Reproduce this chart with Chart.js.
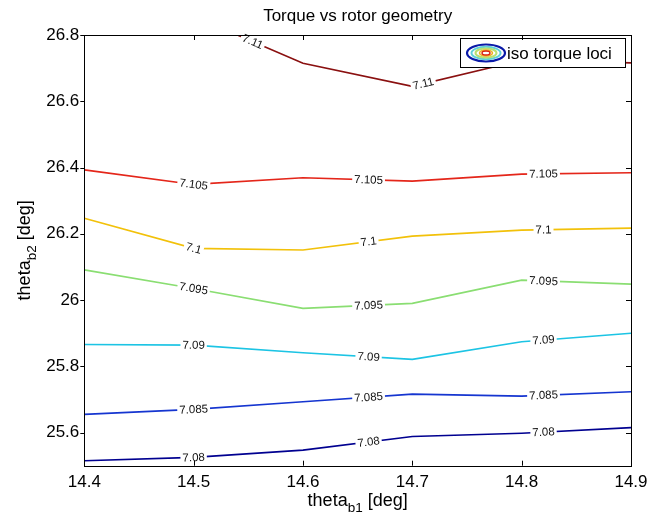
<!DOCTYPE html>
<html><head><meta charset="utf-8">
<script src="https://cdn.jsdelivr.net/npm/chart.js@4.4.1/dist/chart.umd.min.js"></script>
<style>html,body{margin:0;padding:0;background:#fff;} canvas{display:block;}</style>
</head><body>
<canvas id="c" width="665" height="512"></canvas>
<script>
// ---- data ----
const thetaB1 = [14.4, 14.5, 14.6, 14.7, 14.8, 14.9];
const xTicks = [14.4, 14.5, 14.6, 14.7, 14.8, 14.9];
const yTicks = [25.6, 25.8, 26, 26.2, 26.4, 26.6, 26.8];
const levels = ['7.08', '7.085', '7.09', '7.095', '7.1', '7.105', '7.11'];
const loci708  = [25.515, 25.525, 25.547, 25.588, 25.598, 25.615];
const loci7085 = [25.655, 25.670, 25.693, 25.716, 25.710, 25.723];
const loci709  = [25.866, 25.864, 25.841, 25.821, 25.874, 25.900];
const loci7095 = [26.091, 26.035, 25.975, 25.990, 26.060, 26.048];
const loci71   = [26.247, 26.156, 26.151, 26.193, 26.211, 26.217];
const loci7105 = [26.393, 26.349, 26.369, 26.359, 26.380, 26.384];
const loci711X = [14.54, 14.6, 14.7, 14.8, 14.9];
const loci711  = [26.8, 26.715, 26.645, 26.724, 26.716];
const labelX    = [14.5, 14.66, 14.82];
const labelX711 = [14.554, 14.71];
const levelColors = ['#000090', '#1535d0', '#1cc4e4', '#8ade72', '#f2c10a', '#e4261a', '#8a1010'];

const FONT = '"Liberation Sans", Arial, Helvetica, sans-serif';
Chart.defaults.font.family = FONT;
Chart.defaults.color = '#000';

function series(xs, ys) { return xs.map((x, i) => ({x: x, y: ys[i]})); }
const allY = [loci708, loci7085, loci709, loci7095, loci71, loci7105];
const datasets = allY.map((ys, i) => ({
  label: levels[i],
  data: series(thetaB1, ys),
  labelAt: labelX,
  borderColor: levelColors[i],
  borderWidth: 1.6,
  pointRadius: 0,
  tension: 0,
  fill: false
}));
datasets.push({
  label: levels[6],
  data: series(loci711X, loci711),
  labelAt: labelX711,
  borderColor: levelColors[6],
  borderWidth: 1.6,
  pointRadius: 0,
  tension: 0,
  fill: false
});

function fmt(v) { return String(Math.round(v * 10) / 10); }

const decor = {
  id: 'decor',
  afterDatasetsDraw(chart) {
    const {ctx, chartArea: a, scales: {x, y}} = chart;
    // contour labels
    chart.data.datasets.forEach(ds => {
      const pts = ds.data;
      ds.labelAt.forEach(lx => {
        let i = 0;
        for (let k = 0; k < pts.length - 1; k++) { if (lx >= pts[k].x && lx <= pts[k + 1].x) { i = k; break; } }
        const p0 = pts[i], p1 = pts[i + 1];
        const t = (lx - p0.x) / (p1.x - p0.x);
        const ly = p0.y + t * (p1.y - p0.y);
        const px = x.getPixelForValue(lx), py = y.getPixelForValue(ly);
        const ang = Math.atan2(y.getPixelForValue(p1.y) - y.getPixelForValue(p0.y),
                               x.getPixelForValue(p1.x) - x.getPixelForValue(p0.x));
        ctx.save();
        ctx.translate(px, py); ctx.rotate(ang);
        ctx.font = '11.5px ' + FONT;
        const w = ctx.measureText(ds.label).width;
        ctx.fillStyle = '#fff';
        ctx.fillRect(-w / 2 - 2, -5, w + 4, 10);
        ctx.fillStyle = '#111';
        ctx.textAlign = 'center'; ctx.textBaseline = 'middle';
        ctx.fillText(ds.label, 0, 0.5);
        ctx.restore();
      });
    });
    // legend box
    ctx.save();
    const lx0 = 460, ly0 = 38, lw = 165, lh = 29;
    ctx.fillStyle = '#fff'; ctx.fillRect(lx0, ly0, lw, lh);
    ctx.strokeStyle = '#000'; ctx.lineWidth = 1;
    ctx.strokeRect(lx0 + 0.5, ly0 + 0.5, lw, lh);
    const cx = 486, cy = 53;
    const rings = [[19, 8.5, '#0a1aa8', 2.2], [14.5, 6.3, '#60d0d8', 2], [10.5, 4.6, '#b8e070', 2], [6.5, 3, '#f0b020', 1.6], [4, 2, '#d82010', 1.4]];
    rings.forEach(r => {
      ctx.beginPath(); ctx.ellipse(cx, cy, r[0], r[1], 0, 0, Math.PI * 2);
      ctx.strokeStyle = r[2]; ctx.lineWidth = r[3]; ctx.stroke();
    });
    ctx.fillStyle = '#000'; ctx.font = '17px ' + FONT;
    ctx.textAlign = 'left'; ctx.textBaseline = 'alphabetic';
    ctx.fillText('iso torque loci', 507, 59);
    ctx.restore();
    // axes box and tick marks
    ctx.save();
    ctx.strokeStyle = '#000'; ctx.lineWidth = 1;
    ctx.strokeRect(Math.round(a.left) + 0.5, Math.round(a.top) + 0.5, Math.round(a.right - a.left), Math.round(a.bottom - a.top));
    ctx.beginPath();
    xTicks.forEach(v => {
      const px = Math.round(x.getPixelForValue(v)) + 0.5;
      ctx.moveTo(px, a.bottom); ctx.lineTo(px, a.bottom - 5);
      ctx.moveTo(px, a.top); ctx.lineTo(px, a.top + 5);
    });
    yTicks.forEach(v => {
      const py = Math.round(y.getPixelForValue(v)) + 0.5;
      ctx.moveTo(a.left - 4, py); ctx.lineTo(a.left, py);
      ctx.moveTo(a.right, py); ctx.lineTo(a.right - 5, py);
    });
    ctx.stroke();
    ctx.restore();
    // title and axis titles
    ctx.save();
    ctx.fillStyle = '#000';
    ctx.textBaseline = 'alphabetic';
    const midX = (a.left + a.right) / 2, midY = (a.top + a.bottom) / 2;
    ctx.font = '17px ' + FONT; ctx.textAlign = 'center';
    ctx.fillText('Torque vs rotor geometry', midX, 21);
    function axisTitle(sub) {
      const mainF = '18px ' + FONT, subF = '13.5px ' + FONT;
      ctx.font = mainF; const w1 = ctx.measureText('theta').width; const w3 = ctx.measureText(' [deg]').width;
      ctx.font = subF; const w2 = ctx.measureText(sub).width;
      const tot = w1 + w2 + w3;
      let sx = -tot / 2;
      ctx.textAlign = 'left';
      ctx.font = mainF; ctx.fillText('theta', sx, 0); sx += w1;
      ctx.font = subF; ctx.fillText(sub, sx, 6); sx += w2;
      ctx.font = mainF; ctx.fillText(' [deg]', sx, 0);
    }
    ctx.save(); ctx.translate(midX, 506); axisTitle('b1'); ctx.restore();
    ctx.save(); ctx.translate(30, midY); ctx.rotate(-Math.PI / 2); axisTitle('b2'); ctx.restore();
    ctx.restore();
  }
};

new Chart(document.getElementById('c'), {
  type: 'line',
  data: {datasets: datasets},
  options: {
    responsive: false,
    animation: false,
    events: [],
    layout: {padding: {top: 35, right: 34, bottom: 0, left: 0}},
    plugins: {legend: {display: false}, title: {display: false}, tooltip: {enabled: false}},
    scales: {
      x: {
        type: 'linear', min: 14.4, max: 14.9,
        afterBuildTicks: s => { s.ticks = xTicks.map(v => ({value: v})); },
        afterFit: s => { s.height = 46.3; },
        grid: {display: false, drawTicks: false},
        border: {display: false},
        ticks: {font: {size: 17}, color: '#000', padding: 6, maxRotation: 0, autoSkip: false, callback: v => fmt(v)}
      },
      y: {
        type: 'linear', min: 25.5, max: 26.8,
        afterBuildTicks: s => { s.ticks = yTicks.map(v => ({value: v})); },
        afterFit: s => { s.width = 84.3; },
        grid: {display: false, drawTicks: false},
        border: {display: false},
        ticks: {font: {size: 17}, color: '#000', padding: 5, autoSkip: false, callback: v => fmt(v)}
      }
    }
  },
  plugins: [decor]
});
</script>
</body></html>
